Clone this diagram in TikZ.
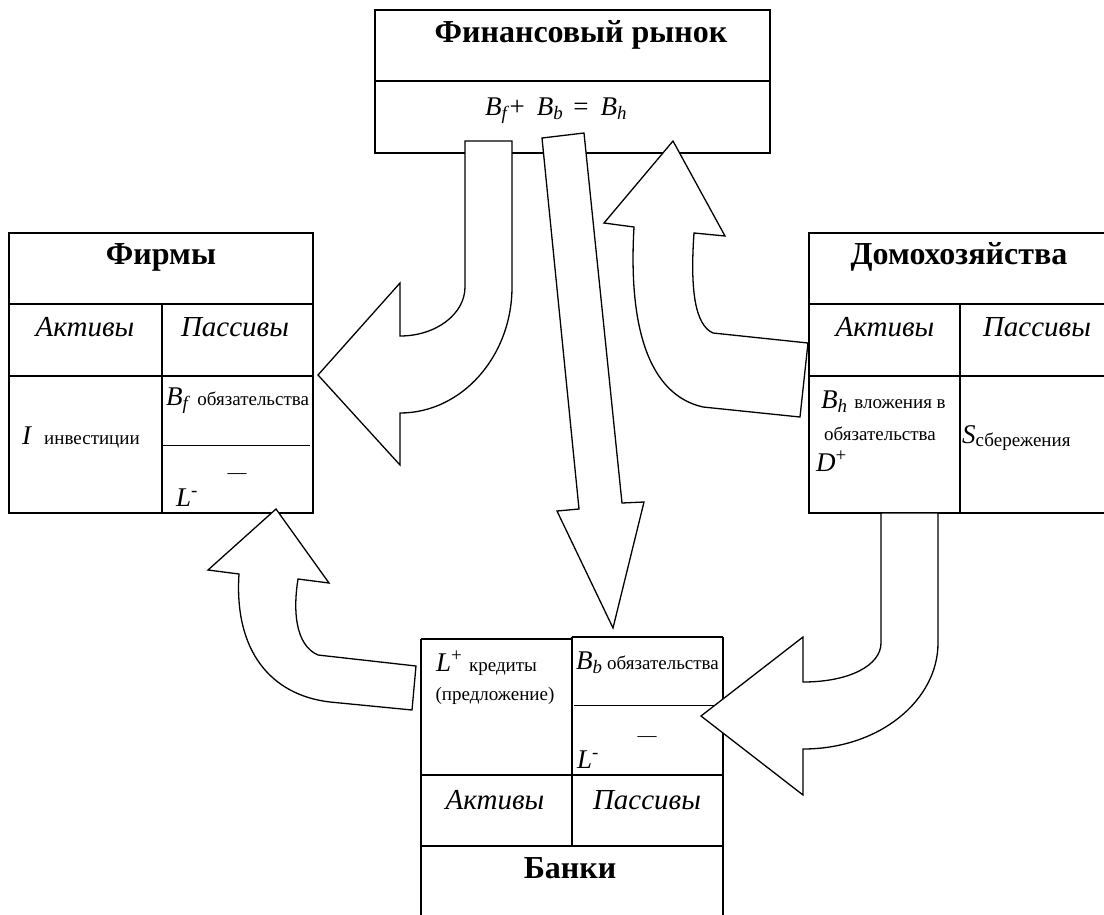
\documentclass[tikz,border=0pt]{standalone}
\usepackage{fontspec}
\setmainfont{Liberation Serif}
\newcommand{\mvar}[1]{\textit{#1}}
\newcommand{\sm}[1]{{\fontsize{19}{19}\selectfont #1}}
\tikzstyle{frame}=[line width=1.5pt]
\tikzstyle{hair}=[line width=0.6pt]
\tikzstyle{flow}=[draw, fill=white, line width=1.3pt, line join=miter]
\tikzstyle{title}=[font=\fontsize{32}{32}\selectfont\bfseries, inner sep=0pt]
\tikzstyle{side}=[font=\fontsize{29}{29}\selectfont\itshape, inner sep=0pt]
\tikzstyle{entry}=[font=\fontsize{27}{27}\selectfont, inner sep=0pt, anchor=base west]
\tikzstyle{note}=[font=\fontsize{19}{19}\selectfont, inner sep=0pt]

\begin{document}
\begin{tikzpicture}[x=1pt, y=-1pt]
\useasboundingbox (0,0) rectangle (1104,914);
\clip (0,0) rectangle (1104,914);
% Market
    \draw[frame] (375,10) rectangle (770,153);
    \draw[frame] (375,81) -- (770,81);
    \node[title] (mkt title) at (581,35) {Финансовый рынок};
    \node[entry] (mkt sum) at (485,115) {\mvar{B}\textsubscript{\mvar{f}}+\hspace{12pt}\mvar{B}\textsubscript{\mvar{b}}\hspace{10pt}=\hspace{12pt}\mvar{B}\textsubscript{\mvar{h}}};
% Firms
    \draw[frame] (9,233) rectangle (313,513);
    \draw[frame] (9,304) -- (313,304);
    \draw[frame] (9,376) -- (313,376);
    \draw[frame] (162,304) -- (162,513);
    \draw[hair] (162,445) -- (310,445);
    \node[title] (firms title) at (161,257) {Фирмы};
    \node[side] (firms act) at (85,327) {Активы};
    \node[side] (firms pas) at (235,327) {Пассивы};
    \node[entry] (firms inv) at (22,444) {\mvar{I}\hspace{12pt}\sm{инвестиции}};
    \node[entry] (firms bf) at (166,405) {\mvar{B}\textsubscript{\mvar{f}} \sm{обязательства}};
    \node[entry] (firms lm) at (176,506) {\mvar{L}\textsuperscript{-}};
    \node[note] (firms bar) at (237,476) {—};
% Households
    \draw[frame] (809,233) rectangle (1112,513);
    \draw[frame] (809,304) -- (1112,304);
    \draw[frame] (809,376) -- (1112,376);
    \draw[frame] (960,304) -- (960,513);
    \node[title] (hh title) at (959,257) {Домохозяйства};
    \node[side] (hh act) at (885,327) {Активы};
    \node[side] (hh pas) at (1037,327) {Пассивы};
    \node[entry] (hh bh) at (821,408) {\mvar{B}\textsubscript{\mvar{h}} \sm{вложения в}};
    \node[note, anchor=base] (hh obl) at (880,440) {обязательства};
    \node[entry] (hh dp) at (816,471) {\mvar{D}\textsuperscript{+}};
    \node[entry] (hh sav) at (962,443) {\mvar{S}\raisebox{-3pt}{\sm{сбережения}}};
% Banks
    \draw[frame] (421,639) -- (572,639);
    \draw[frame] (572,637) -- (723,637);
    \draw[frame] (421,639) -- (421,930);
    \draw[frame] (723,637) -- (723,930);
    \draw[frame] (572,637) -- (572,846);
    \draw[frame] (421,775) -- (723,775);
    \draw[frame] (421,846) -- (723,846);
    \draw[hair] (574,705) -- (721,705);
    \node[entry] (bank lp) at (436,671) {\mvar{L}\textsuperscript{+} \sm{кредиты}};
    \node[note, anchor=base] (bank offer) at (495,700) {(предложение)};
    \node[entry] (bank bb) at (576,669) {\mvar{B}\textsubscript{\mvar{b}}\,\sm{обязательства}};
    \node[entry] (bank lm) at (577,768) {\mvar{L}\textsuperscript{-}};
    \node[note] (bank bar) at (647,739) {—};
    \node[side] (bank act) at (495,800) {Активы};
    \node[side] (bank pas) at (647,800) {Пассивы};
    \node[title] (bank title) at (570,868) {Банки};
% Flows
    \draw[flow] (465,141) -- (465,287) .. controls (465,314) and (436,336) .. (400,336)
        -- (400,283) -- (318,375) -- (400,465) -- (400,413)
        .. controls (462,413) and (512,356) .. (512,287) -- (512,141) -- cycle;
    \draw[flow] (542,138) -- (579,509) -- (557,511) -- (613,628) -- (644,502)
        -- (622,503) -- (584,133) -- cycle;
    \draw[flow] (673,141) -- (604,223) -- (634,227)
        .. controls (628,330) and (650,395) .. (703,407) -- (800,417) -- (808,343)
        -- (713,333) .. controls (695,325) and (690,290) .. (694,233) -- (725,236) -- cycle;
    \draw[flow] (276,509) -- (208,570) -- (239,574)
        .. controls (234,650) and (270,695) .. (330,702) -- (412,710) -- (416,666)
        -- (318,655) .. controls (295,645) and (293,610) .. (298,579) -- (329,583) -- cycle;
    \draw[flow] (881,513) -- (881,643) .. controls (881,665) and (850,682) .. (803,682)
        -- (803,637) -- (701,716) -- (803,795) -- (803,749)
        .. controls (880,749) and (938,700) .. (938,643) -- (938,513) -- cycle;
\end{tikzpicture}
\end{document}
